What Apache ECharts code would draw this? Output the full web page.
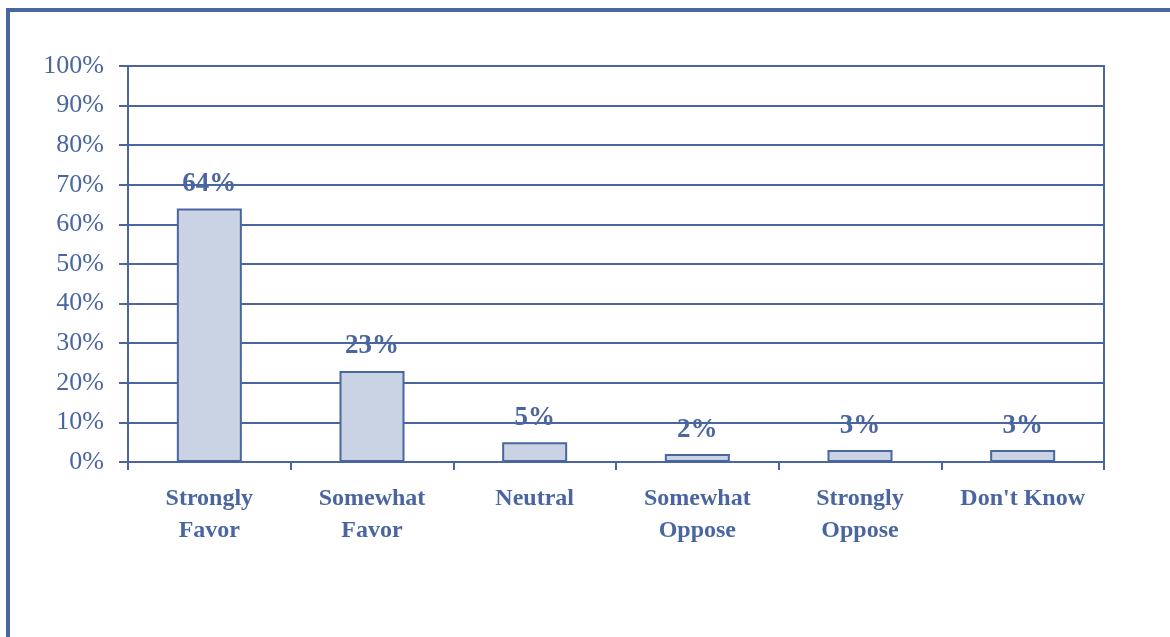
<!DOCTYPE html>
<html>
<head>
<meta charset="utf-8">
<script src="https://cdn.jsdelivr.net/npm/echarts@6/dist/echarts.min.js"></script>
<style>
html,body{margin:0;padding:0;background:#fff;}
#c{width:1170px;height:637px;}
</style>
</head>
<body>
<div id="c"></div>
<script>
const categories = ['Strongly\nFavor', 'Somewhat\nFavor', 'Neutral', 'Somewhat\nOppose', 'Strongly\nOppose', "Don't Know"];
const values = [64, 23, 5, 2, 3, 3];
const yTicks = [0, 10, 20, 30, 40, 50, 60, 70, 80, 90, 100];

const blue = '#4a66a0';
const serif = '"Liberation Serif", "Times New Roman", serif';

const chart = echarts.init(document.getElementById('c'));
chart.setOption({
  animation: false,
  grid: { left: 128, right: 66, top: 66, bottom: 175, show: true, borderColor: blue, borderWidth: 2, containLabel: false },
  graphic: [{
    type: 'polyline',
    shape: { points: [[8, 640], [8, 10], [1175, 10]] },
    style: { stroke: blue, lineWidth: 4, fill: null }
  }],
  xAxis: {
    type: 'category',
    data: categories,
    axisLine: { lineStyle: { color: blue, width: 2 } },
    axisTick: { show: true, length: 8, lineStyle: { color: blue, width: 2 } },
    axisLabel: { color: blue, fontFamily: serif, fontWeight: 'bold', fontSize: 24, lineHeight: 32, margin: 21, interval: 0 }
  },
  yAxis: {
    type: 'value',
    min: 0, max: 100, interval: 10,
    axisLine: { show: true, lineStyle: { color: blue, width: 2 } },
    axisTick: { show: true, length: 9, lineStyle: { color: blue, width: 2 } },
    splitLine: { lineStyle: { color: blue, width: 2 } },
    axisLabel: { color: blue, fontFamily: serif, fontSize: 26, margin: 24, padding: [4, 0, 0, 0],
      formatter: v => yTicks.indexOf(v) >= 0 ? v + '%' : '' }
  },
  series: [{
    type: 'bar',
    data: values,
    barWidth: 65,
    itemStyle: { color: '#c9d3e3', borderColor: blue, borderWidth: 2 },
    label: { show: true, position: 'top', distance: 11, color: blue, fontFamily: serif, fontWeight: 'bold', fontSize: 27, formatter: '{c}%' }
  }]
});
</script>
</body>
</html>
